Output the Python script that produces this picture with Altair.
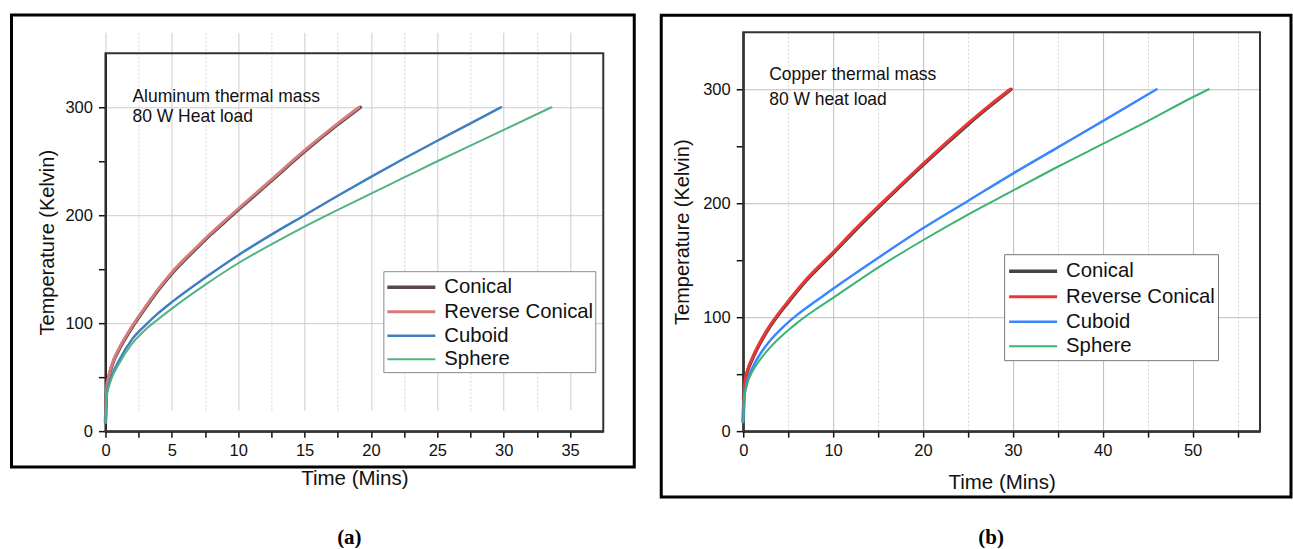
import altair as alt
import pandas as pd

SERIES = ["Conical", "Reverse Conical", "Cuboid", "Sphere"]

# ---------------- (a) Aluminum thermal mass ----------------
AL_CON_T = [0, 0.1, 0.25, 0.5, 1, 1.5, 2, 3, 4, 5, 6, 7, 8, 9, 10, 12.5, 15, 17.5, 19.2]
AL_CON_K = [8, 40, 50, 61, 75, 86, 96, 114, 131, 146, 159, 171, 183, 194, 205, 232, 259, 284, 300]
AL_REV_T = [0, 0.1, 0.25, 0.5, 1, 1.5, 2, 3, 4, 5, 6, 7, 8, 9, 10, 12.5, 15, 17.5, 19.1]
AL_REV_K = [8, 41, 51, 62, 76, 87, 97, 115, 132, 147, 160, 172, 184, 195, 206, 233, 260, 285, 300]
AL_CUB_T = [0, 0.1, 0.25, 0.5, 1, 2, 3, 4, 5, 7.5, 10, 12.5, 15, 17.5, 20, 22.5, 25, 27.5, 29.8]
AL_CUB_K = [8, 35, 43, 52, 65, 85, 98, 109.5, 119.5, 142, 163, 182, 200, 218, 235.5, 252.5, 269, 285, 300]
AL_SPH_T = [0, 0.1, 0.25, 0.5, 1, 2, 3, 4, 5, 7.5, 10, 12.5, 15, 17.5, 20, 22.5, 25, 27.5, 30, 33.6]
AL_SPH_K = [8, 34, 41, 50, 62, 81, 94, 104, 113.5, 135.5, 155.5, 173, 189.5, 205, 220, 235, 250, 264.5, 279, 300]

# ---------------- (b) Copper thermal mass ----------------
CU_CON_T = [0, 0.1, 0.25, 0.5, 1, 2, 3, 4, 5, 7, 10, 12.5, 15, 17.5, 20, 22.5, 25, 27.5, 29.8]
CU_CON_K = [8, 35, 45, 53, 63, 79, 92, 103, 113, 132, 156, 176.5, 196, 215, 233.5, 251.5, 269, 285.5, 300]
CU_REV_T = [0, 0.1, 0.25, 0.5, 1, 2, 3, 4, 5, 7, 10, 12.5, 15, 17.5, 20, 22.5, 25, 27.5, 29.7]
CU_REV_K = [8, 36, 46, 54, 64, 80, 93, 104, 114, 133, 157, 177.5, 197, 216, 234.5, 252.5, 270, 286.5, 300]
CU_CUB_T = [0, 0.1, 0.25, 0.5, 1, 2, 3, 4, 5, 6, 7, 8, 10, 15, 20, 25, 30, 35, 40, 46]
CU_CUB_K = [8, 30, 37, 45, 55, 69, 79.5, 88, 95.5, 102, 108, 113.7, 125, 152, 178, 202, 226, 249, 272, 300]
CU_SPH_T = [0, 0.1, 0.25, 0.5, 1, 2, 3, 4, 5, 6, 7, 8, 10, 15, 20, 25, 30, 35, 40, 45, 50, 51.8]
CU_SPH_K = [8, 29, 35, 43, 52, 64, 73.5, 81.5, 88.5, 95, 101, 106.5, 117, 143.5, 167.5, 190, 211, 232, 252, 272, 293, 300]

NOTE_A = ["Aluminum thermal mass", "80 W Heat load"]
NOTE_B = ["Copper thermal mass", "80 W heat load"]
CAPTION_A = "(a)"
CAPTION_B = "(b)"

X_TICKS_A = [0, 2.5, 5, 7.5, 10, 12.5, 15, 17.5, 20, 22.5, 25, 27.5, 30, 32.5, 35]
X_TICKS_B = [0, 5, 10, 15, 20, 25, 30, 35, 40, 45, 50, 55]
Y_TICKS = [0, 50, 100, 150, 200, 250, 300]

COLORS_A = ["#584848", "#d77c7c", "#3f7fbf", "#52b383"]
COLORS_B = ["#444444", "#ee3535", "#3a86ff", "#3cb371"]
WIDTHS = [3.4, 2, 2, 2]

FONT = "Liberation Sans"
H = 399  # height of the cell (plot bottom is shared by both panels)


def frame_df(*pairs):
    rows = []
    for name, ts, ks in pairs:
        for t, k in zip(ts, ks):
            rows.append({"t": t, "K": k, "series": name})
    return pd.DataFrame(rows)


df_a = frame_df(("Conical", AL_CON_T, AL_CON_K), ("Reverse Conical", AL_REV_T, AL_REV_K),
                ("Cuboid", AL_CUB_T, AL_CUB_K), ("Sphere", AL_SPH_T, AL_SPH_K))
df_b = frame_df(("Conical", CU_CON_T, CU_CON_K), ("Reverse Conical", CU_REV_T, CU_REV_K),
                ("Cuboid", CU_CUB_T, CU_CUB_K), ("Sphere", CU_SPH_T, CU_SPH_K))


def panel(df, w, top, xmax, xticks, major, colors, grid_major, note, note_xy, caption, cap_xy,
          frame, legend_xy, legend_pad, legend_rowpad, ytitle_x, xtitle_y, legend_stroke):
    xaxis = alt.Axis(
        values=xticks,
        labelExpr=f"datum.value % {major} === 0 ? datum.label : ''",
        title="Time (Mins)", titleFont=FONT, titleFontSize=20.5, titleFontWeight="normal",
        titleColor="#111", titleY=xtitle_y, titleBaseline="middle",
        labelFont=FONT, labelFontSize=16.5, labelColor="#111", labelPadding=5,
        labelFlush=False, labelOverlap=False,
        tickSize=6, tickColor="#111", tickWidth=1.5,
        domainColor="#111", domainWidth=2,
        grid=True,
        gridColor={"condition": {"test": f"datum.value % {major} === 0", "value": grid_major},
                   "value": "#d3d3d3"},
        gridDash={"condition": {"test": f"datum.value % {major} === 0", "value": []},
                  "value": [2, 2]},
        gridWidth=1,
    )
    yaxis = alt.Axis(
        values=Y_TICKS,
        labelExpr="datum.value % 100 === 0 ? datum.label : ''",
        title="Temperature (Kelvin)", titleFont=FONT, titleFontSize=20, titleFontWeight="normal",
        titleColor="#111", titleX=ytitle_x, titleY=(top + H) / 2, titleBaseline="middle",
        labelFont=FONT, labelFontSize=16.5, labelColor="#111", labelPadding=6,
        tickSize=7, tickColor="#111", tickWidth=1.5,
        domainColor="#111", domainWidth=2,
        grid=True, gridColor=grid_major, gridWidth=1,
        gridOpacity={"condition": {"test": "datum.value % 100 === 0", "value": 1}, "value": 0},
    )
    lines = alt.Chart(df).mark_line(strokeCap="round", strokeJoin="round", interpolate="monotone").encode(
        x=alt.X("t:Q", scale=alt.Scale(domain=[0, xmax], nice=False, zero=True), axis=xaxis),
        y=alt.Y("K:Q", scale=alt.Scale(domain=[0, 350], nice=False, range=[H, top]), axis=yaxis),
        color=alt.Color("series:N", scale=alt.Scale(domain=SERIES, range=colors),
                        legend=alt.Legend(
                            title=None, orient="none", legendX=legend_xy[0], legendY=legend_xy[1],
                            direction="vertical",
                            symbolType="M-2,0H2", symbolSize=576, symbolStrokeWidth=2.2,
                            symbolOffset=12, labelOffset=19,
                            labelFont=FONT, labelFontSize=20.3, labelColor="#111",
                            rowPadding=legend_rowpad, padding=legend_pad,
                            strokeColor=legend_stroke, fillColor="white",
                        )),
        strokeWidth=alt.StrokeWidth("series:N", scale=alt.Scale(domain=SERIES, range=WIDTHS), legend=None),
        order=alt.Order("t:Q"),
    )
    one = alt.Data(values=[{"k": 1}])
    box = alt.Chart(one).mark_rect(fillOpacity=0, stroke="black", strokeWidth=3).encode(
        x=alt.value(frame[0]), x2=alt.value(frame[1]), y=alt.value(frame[2]), y2=alt.value(frame[3])
    )
    border = alt.Chart(one).mark_rect(fillOpacity=0, stroke="#333333", strokeWidth=2).encode(
        x=alt.value(0), x2=alt.value(w), y=alt.value(top), y2=alt.value(H)
    )
    note_mark = alt.Chart(one).mark_text(
        text=note, align="left", baseline="middle", font=FONT, fontSize=17.5, color="#111",
        lineHeight=note_xy[2]
    ).encode(x=alt.value(note_xy[0]), y=alt.value(note_xy[1]))
    cap = alt.Chart(one).mark_text(
        text=caption, align="center", baseline="middle", font="Liberation Serif",
        fontWeight="bold", fontSize=21, color="black"
    ).encode(x=alt.value(cap_xy[0]), y=alt.value(cap_xy[1]))
    return alt.layer(box, border, lines, note_mark, cap).properties(width=w, height=H)


left = panel(df_a, 498, 21, 37.5, X_TICKS_A, 5, COLORS_A, "#cccccc", NOTE_A, (27, 65, 20),
             CAPTION_A, (244, 506), (-94, 529, -17.3, 435), (278, 239), 2, 0, -58, 47, "#8a8a8a")
right = panel(df_b, 517, 0, 57.5, X_TICKS_B, 10, COLORS_B, "#bdbdbd", NOTE_B, (26, 43, 25),
              CAPTION_B, (248, 506), (-82, 548, -17, 465), (261, 222), 3, 1, -61, 51, "#777777")

chart = alt.hconcat(left, right, spacing=23).resolve_scale(
    color="independent", strokeWidth="independent",
    x="independent", y="independent"
).properties(
    padding={"left": 9.5, "top": 13.2, "right": 0, "bottom": 0},
    background="white",
).configure_view(strokeWidth=0)

chart.save("out.html", embed_options={"renderer": "svg", "actions": False})
